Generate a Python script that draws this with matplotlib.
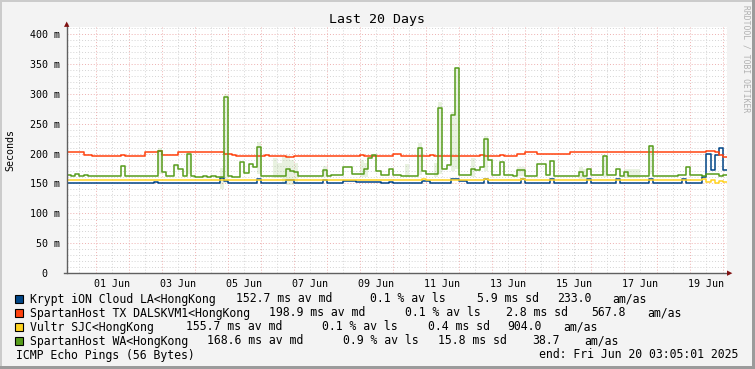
import datetime as dt
import matplotlib
matplotlib.use("Agg")
from matplotlib import pyplot as plt
from matplotlib.patches import Rectangle
from matplotlib.lines import Line2D

# one value every 3 hours, 31 May 03:05 -> 20 Jun 03:05 (160 steps)
start = dt.datetime(2025, 5, 31, 3, 5, 1)
step_h = 3

krypt = [
    151.5, 151.5, 151.5, 151.5, 151.5, 151.5, 151.5, 151.5, 151.5, 151.5,
    151.5, 151.5, 151.5, 151.5, 151.5, 151.5, 151.5, 151.5, 151.5, 151.5,
    151.5, 153.0, 151.5, 151.5, 151.5, 151.5, 151.5, 150.5, 150.5, 150.5,
    150.5, 150.5, 150.5, 150.5, 150.5, 150.5, 150.5, 158.5, 154.0, 150.5,
    150.5, 150.5, 150.5, 150.5, 150.5, 150.5, 157.0, 150.5, 150.5, 150.5,
    150.5, 150.5, 150.5, 156.0, 156.0, 150.5, 150.5, 150.5, 150.5, 150.5,
    150.5, 150.5, 156.0, 150.5, 150.5, 150.5, 150.5, 154.0, 154.0, 154.0,
    153.0, 153.0, 153.0, 153.0, 153.0, 153.0, 150.5, 150.5, 153.0, 150.5,
    150.5, 150.5, 150.5, 150.5, 150.5, 150.5, 154.0, 154.0, 150.5, 150.5,
    150.5, 150.5, 150.5, 158.0, 158.0, 154.0, 154.0, 150.5, 150.5, 150.5,
    150.5, 157.4, 150.5, 150.5, 150.5, 150.5, 150.5, 150.5, 150.5, 150.5,
    158.0, 150.5, 150.5, 150.5, 150.5, 150.5, 150.5, 158.0, 150.5, 150.5,
    150.5, 150.5, 150.5, 150.5, 150.5, 150.5, 157.4, 150.5, 150.5, 150.5,
    150.5, 150.5, 150.5, 157.4, 150.5, 150.5, 150.5, 150.5, 150.5, 150.5,
    150.5, 157.4, 150.5, 150.5, 150.5, 150.5, 150.5, 150.5, 150.5, 158.0,
    150.5, 150.5, 150.5, 150.5, 161.0, 200.0, 172.0, 198.0, 210.0, 172.0,
]

spartan_tx = [
    202.0, 202.0, 202.0, 202.0, 197.5, 197.5, 196.4, 196.4, 196.4, 196.4,
    196.4, 196.4, 196.4, 197.5, 196.4, 196.4, 196.4, 196.4, 196.4, 202.0,
    202.0, 202.0, 204.0, 197.5, 197.5, 197.5, 197.5, 202.5, 202.5, 202.5,
    202.5, 202.5, 202.5, 202.5, 202.5, 202.5, 202.5, 202.5, 200.0, 200.0,
    197.5, 196.4, 196.4, 196.4, 196.4, 196.4, 196.4, 196.4, 197.5, 196.4,
    196.4, 196.4, 196.4, 194.7, 194.7, 196.4, 196.4, 196.4, 196.4, 196.4,
    196.4, 196.4, 196.4, 196.4, 196.4, 196.4, 196.4, 196.4, 196.4, 196.4,
    196.4, 197.5, 196.4, 196.4, 196.4, 196.4, 196.4, 196.4, 196.4, 198.5,
    198.5, 196.4, 196.4, 196.4, 196.4, 196.4, 196.4, 196.4, 197.5, 196.4,
    196.4, 196.4, 196.4, 196.4, 196.4, 196.4, 196.4, 196.4, 196.4, 196.4,
    198.0, 196.4, 196.4, 196.4, 196.4, 197.5, 196.4, 196.4, 196.4, 199.0,
    199.0, 203.0, 203.0, 203.0, 199.0, 199.0, 199.0, 199.0, 199.0, 199.0,
    199.0, 199.0, 202.0, 202.0, 202.0, 202.0, 202.0, 202.0, 202.0, 202.0,
    202.0, 202.0, 202.0, 202.0, 202.0, 202.0, 202.0, 202.0, 202.0, 202.0,
    202.0, 202.0, 202.0, 202.0, 202.0, 202.0, 202.0, 202.0, 202.0, 202.0,
    202.0, 202.0, 202.0, 202.0, 203.0, 205.0, 205.0, 202.0, 197.0, 194.0,
]

vultr = [
    155.6, 155.6, 155.6, 155.6, 155.6, 155.6, 155.6, 155.6, 155.6, 155.6,
    155.6, 155.6, 155.6, 155.6, 155.6, 155.6, 155.6, 155.6, 155.6, 155.6,
    155.6, 155.6, 155.6, 155.6, 155.6, 155.6, 155.6, 155.6, 155.6, 155.6,
    155.6, 155.6, 155.6, 155.6, 155.6, 155.6, 155.6, 155.6, 155.6, 155.6,
    155.6, 155.6, 155.6, 155.6, 155.6, 155.6, 155.6, 155.6, 155.6, 155.6,
    155.6, 155.6, 155.6, 155.6, 155.6, 155.6, 155.6, 155.6, 155.6, 155.6,
    155.6, 155.6, 155.6, 155.6, 155.6, 155.6, 155.6, 155.6, 155.6, 155.6,
    155.6, 155.6, 155.6, 155.6, 155.6, 155.6, 155.6, 155.6, 155.6, 155.6,
    155.6, 155.6, 155.6, 155.6, 155.6, 155.6, 158.0, 155.6, 155.6, 155.6,
    155.6, 155.6, 155.6, 155.6, 155.6, 155.6, 155.6, 155.6, 155.6, 155.6,
    155.6, 158.0, 155.6, 155.6, 155.6, 155.6, 155.6, 155.6, 155.6, 155.6,
    158.0, 155.6, 155.6, 155.6, 155.6, 155.6, 155.6, 155.6, 155.6, 155.6,
    155.6, 155.6, 155.6, 155.6, 155.6, 155.6, 155.6, 155.6, 155.6, 155.6,
    155.6, 155.6, 155.6, 155.6, 155.6, 155.6, 155.6, 155.6, 155.6, 155.6,
    155.6, 155.6, 155.6, 155.6, 155.6, 155.6, 155.6, 155.6, 155.6, 155.6,
    155.6, 155.6, 155.6, 155.6, 157.0, 152.0, 155.0, 151.0, 154.0, 153.0,
]

spartan_wa = [
    164, 163, 165, 163, 164, 162, 162, 163, 162, 162,
    162, 163, 162, 180, 162, 163, 162, 162, 163, 162,
    162, 163, 204, 169, 162, 162, 181, 175, 162, 200,
    162, 161, 161, 162, 161, 162, 161, 161, 294, 162,
    161, 161, 186, 167, 182, 178, 211, 163, 163, 163,
    163, 162, 162, 175, 170, 169, 163, 162, 162, 162,
    162, 162, 172, 163, 164, 164, 164, 178, 178, 166,
    165, 165, 175, 192, 197, 170, 164, 164, 175, 164,
    164, 162, 162, 163, 163, 209, 170, 165, 165, 165,
    276, 175, 181, 265, 343, 164, 164, 164, 175, 172,
    178, 224, 190, 164, 164, 186, 164, 164, 163, 172,
    172, 163, 163, 163, 183, 183, 164, 187, 163, 163,
    163, 163, 163, 163, 169, 163, 175, 164, 164, 164,
    196, 164, 164, 175, 163, 169, 163, 163, 163, 163,
    163, 212, 163, 163, 163, 163, 163, 163, 164, 164,
    178, 164, 164, 164, 163, 165, 166, 165, 163, 164,
]

# "smoke" (spread) of SpartanHost WA at a few steps
smoke_idx = [22, 29, 37, 38, 46, 50, 51, 52, 53, 54, 55, 62, 71, 72, 82, 85,
             89, 90, 93, 94, 98, 101, 109, 110, 124, 125, 130, 135, 136, 137,
             138, 141]
smoke_lo = [165, 165, 140, 150, 165, 159, 159, 150, 147, 147, 150, 160, 160,
            160, 160, 164, 160, 165, 170, 175, 161, 170, 162, 162, 158, 158,
            160, 159, 159, 159, 159, 165]
smoke_hi = [210, 205, 176, 300, 220, 192, 185, 195, 197, 190, 185, 180, 190,
            185, 182, 218, 185, 287, 270, 345, 192, 230, 178, 178, 178, 175,
            198, 175, 175, 175, 175, 215]

names = ["Krypt iON Cloud LA<HongKong", "SpartanHost TX DALSKVM1<HongKong",
         "Vultr SJC<HongKong", "SpartanHost WA<HongKong"]
colors = ["#004586", "#ff420e", "#ffd320", "#579d1c"]
stats = [
    ["152.7 ms av md", "0.1 % av ls", "5.9 ms sd", "233.0", "am/as"],
    ["198.9 ms av md", "0.1 % av ls", "2.8 ms sd", "567.8", "am/as"],
    ["155.7 ms av md", "0.1 % av ls", "0.4 ms sd", "904.0", "am/as"],
    ["168.6 ms av md", "0.9 % av ls", "15.8 ms sd", "38.7", "am/as"],
]
y_ticks = [0, 50, 100, 150, 200, 250, 300, 350, 400]
y_labels = ["0  ", "50 m", "100 m", "150 m", "200 m", "250 m", "300 m", "350 m", "400 m"]

W, H = 755, 369
mono = "DejaVu Sans Mono"
plt.rcParams["font.family"] = mono

fig = plt.figure(figsize=(W / 100, H / 100), dpi=100, facecolor="#f3f3f3")
ax = fig.add_axes([67 / W, (H - 273) / H, 660 / W, 246 / H])
ax.set_facecolor("white")

times = [start + dt.timedelta(hours=step_h * i) for i in range(len(spartan_wa) + 1)]
end = times[-1]

# grid: minor grey, major red, dotted like rrdtool
minor_c, major_c = "#d4d4d4", "#eeb0b0"
dots = (0, (1, 2))
for v in range(0, 420, 10):
    if v % 50:
        ax.axhline(v, color=minor_c, lw=0.7, ls=dots, zorder=0)
for v in range(0, 420, 50):
    ax.axhline(v, color=major_c, lw=0.7, ls=dots, zorder=0.5)
day = dt.datetime(2025, 5, 31)
while day < end:
    noon = day + dt.timedelta(hours=12)
    if start < day:
        ax.axvline(day, color=major_c, lw=0.7, ls=dots, zorder=0.5)
    if start < noon < end:
        ax.axvline(noon, color=minor_c, lw=0.7, ls=dots, zorder=0)
    day += dt.timedelta(days=1)

# smoke
for i, lo, hi in zip(smoke_idx, smoke_lo, smoke_hi):
    ax.bar(times[i], hi - lo, bottom=lo, width=step_h / 24, align="edge",
           color=colors[3], alpha=0.13, lw=0, zorder=1)

for vals, c in zip([krypt, spartan_tx, vultr, spartan_wa], colors):
    ax.step(times, vals + [vals[-1]], where="post", color=c, lw=1.1, zorder=2)

ax.set_xlim(start, end)
ax.set_ylim(0, 412)
ax.set_yticks(y_ticks)
ax.set_yticklabels(y_labels)
label_days = [dt.datetime(2025, 6, d, 12) for d in range(1, 20, 2)]
ax.set_xticks(label_days)
ax.set_xticklabels([d.strftime("%d %b") for d in label_days])
ax.tick_params(length=0, labelsize=7.2)
ax.tick_params(axis="y", pad=5)
ax.tick_params(axis="x", pad=4)
for s in ax.spines.values():
    s.set_visible(False)

# axes with arrows
fig.add_artist(Line2D([67 / W, 67 / W], [(H - 273) / H, (H - 24) / H], color="#606060", lw=1))
fig.add_artist(Line2D([64 / W, 729 / W], [(H - 273) / H, (H - 273) / H], color="#606060", lw=1))
fig.text(67 / W, (H - 24) / H, "\u25b2", color="#801010", fontsize=5, ha="center", va="center",
         family="DejaVu Sans")
fig.text(730 / W, (H - 273) / H, "\u25b6", color="#801010", fontsize=5, ha="center", va="center",
         family="DejaVu Sans")

fig.text(377 / W, 1 - 19 / H, "Last 20 Days", fontsize=9.5, ha="center", va="center")
fig.text(10 / W, 1 - 150 / H, "Seconds", fontsize=7.2, rotation=90, ha="center", va="center")
fig.text(746 / W, 1 - 5 / H, "RRDTOOL / TOBI OETIKER", fontsize=5.8, rotation=270,
         ha="center", va="top", color="#b0b0b0")

# legend
stat_x = [
    [235.7, 370, 476.7, 556.7, 612.3],
    [269.3, 405, 505.7, 591.7, 647.7],
    [185.7, 321.7, 428.3, 507.7, 563.3],
    [207.3, 343.3, 438, 532, 584],
]
for k, (name, c) in enumerate(zip(names, colors)):
    yc = 299 + 14 * k
    fig.add_artist(Rectangle((15 / W, 1 - (yc + 4) / H), 8 / W, 8 / H, facecolor=c,
                             edgecolor="black", lw=0.8))
    fig.text(30 / W, 1 - yc / H, name, fontsize=8.3, va="center")
    for xs, s in zip(stat_x[k], stats[k]):
        fig.text(xs / W, 1 - yc / H, s, fontsize=8.3, va="center")
fig.text(16 / W, 1 - 355 / H, "ICMP Echo Pings (56 Bytes)", fontsize=8.3, va="center")
fig.text(738 / W, 1 - 355 / H, "end: Fri Jun 20 03:05:01 2025", fontsize=8.3, va="center", ha="right")

# frame shading
fig.add_artist(Rectangle((0, 1 - 2 / H), 1, 2 / H, color="#cbcbcb", lw=0))
fig.add_artist(Rectangle((0, 0), 2 / W, 1, color="#cbcbcb", lw=0))
fig.add_artist(Rectangle((0, 0), 1, 3 / H, color="#9b9b9b", lw=0))
fig.add_artist(Rectangle((1 - 3 / W, 0), 3 / W, 1, color="#9b9b9b", lw=0))

plt.savefig("out.png", dpi=100, facecolor=fig.get_facecolor())
